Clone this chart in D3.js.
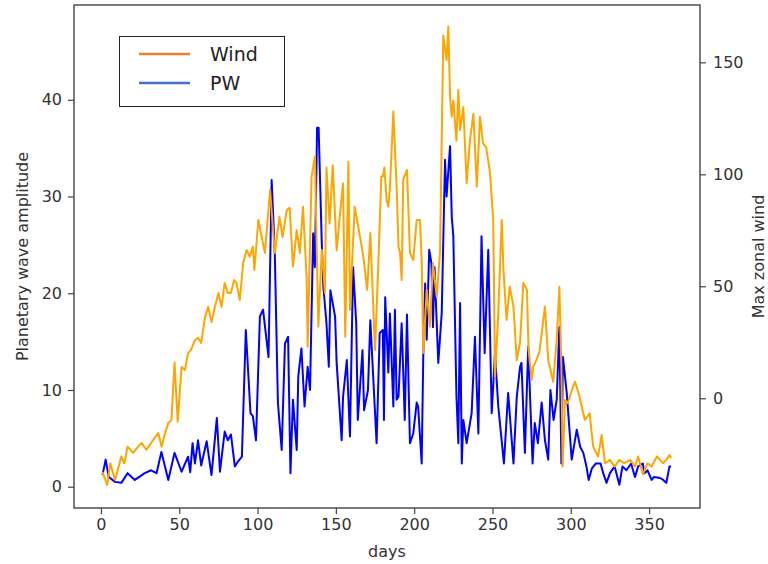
<!DOCTYPE html>
<html>
<head>
<meta charset="utf-8">
<script src="https://cdn.jsdelivr.net/npm/d3@7"></script>
<style>
  body { margin: 0; background: #fff; }
  svg { font-family: "DejaVu Sans", sans-serif; }
</style>
</head>
<body>
<div id="chart"></div>
<script>
const pwDays = [1, 3, 5, 9, 13, 17, 21.6, 28, 32, 35.5, 38.6, 43, 47, 51.5, 55.6, 57, 58.5, 60, 62, 64,
  67.5, 70.6, 74, 76, 79, 81, 83, 85.5, 87.5, 90, 92.5, 95.5, 97, 99, 101.5, 103.5, 107, 109, 111, 113,
  115.4, 117.5, 119.5, 121, 122.6, 125, 126, 128, 130, 132, 133.5, 135.5, 136.6, 138, 139, 141, 142, 144, 145.5, 146.5,
  149.5, 150.5, 153.7, 154.6, 157, 159, 161, 163, 164, 167, 168, 170.5, 172, 176, 178, 180, 180.7, 181.5, 183.5, 184.5,
  186.7, 187.7, 188.8, 190, 192, 194, 195.4, 197.3, 199.4, 201.6, 202.5, 204.8, 205.8, 207, 208, 209.6, 211, 212, 213, 215.4,
  217.6, 219.7, 220.7, 222.9, 224, 225, 227, 228.2, 229.3, 230.4, 231.4, 233.5, 236.7, 238.8, 241, 243, 245, 247.3, 249.5, 251.6,
  253.7, 257.3, 260, 263.4, 265.5, 267.6, 268.5, 270.7, 272.8, 275.6, 277, 279, 281.4, 283.5, 285.6, 287, 289, 291, 292.7, 294,
  295, 297.4, 300.6, 303.8, 306, 308, 310, 311.4, 313.5, 316, 319, 320.7, 322.8, 325, 328, 331, 333, 335.5, 338.5, 341,
  343, 346, 347, 349, 351.6, 353, 357, 359, 361, 363, 364];
const pwValues = [1.2, 2.8, 1.0, 0.5, 0.4, 1.4, 0.7, 1.4, 1.7, 1.4, 3.6, 0.7, 3.5, 1.55, 3.1, 1.5, 4.5, 2.4, 4.8, 2.2,
  4.7, 1.2, 7.1, 1.55, 5.7, 4.8, 5.4, 2.1, 2.6, 3.1, 16.2, 7.6, 7.3, 4.8, 17.6, 18.3, 13.4, 31.7, 24.2, 8.7,
  3.8, 14.8, 15.5, 1.4, 9, 3.8, 11.4, 14.3, 8.3, 12.4, 10, 26.2, 22.7, 37.1, 37.1, 25.2, 20.7, 16.9, 12.4, 20.3,
  17.6, 12.8, 4.8, 9.3, 13.1, 5.2, 22.7, 16.9, 6.9, 14.1, 7.9, 10, 17.2, 4.5, 15.9, 16.2, 6.9, 19.6, 11.8, 17.9,
  8.3, 18.3, 9, 9.3, 16.9, 6.9, 17.8, 4.5, 5.5, 8.7, 8.3, 2.4, 13.4, 21, 15.2, 24.5, 23.1, 16.5, 22.7, 12.8,
  18, 33.8, 30, 35.2, 27.9, 25.9, 9.3, 4.5, 19, 2.4, 6.9, 4.5, 7.6, 15.5, 5.5, 25.9, 13.8, 24.5, 7.6, 13.8,
  8.3, 2.4, 9.7, 2.4, 9.3, 12.4, 12.8, 3.5, 14.5, 2.4, 6.6, 4.5, 8.7, 4.8, 2.8, 10, 6.9, 9, 16.5, 2.4,
  13.4, 9.7, 2.8, 5.9, 4.1, 3.5, 2.1, 0.7, 1.9, 2.4, 2.4, 1.4, 0.4, 1.4, 2.1, 0.2, 2.1, 1.7, 2.4, 1.0,
  2.1, 2.4, 1.4, 1.7, 0.7, 1.0, 0.9, 0.7, 0.4, 2.1, 2.1];

// max zonal wind (right axis)
const windDays = [1, 4, 6, 9, 13, 15, 17, 20.6, 23.7, 26, 29, 32, 36.6, 38.7, 41, 43, 45, 47, 49, 51.5,
  53.6, 55.6, 57.5, 60, 62, 64, 66.4, 68.5, 70.6, 72.8, 75, 77, 79, 81, 83, 85, 86.5, 88.7, 90.8, 93,
  95, 97, 98, 100.5, 102.6, 104.7, 108, 111, 114, 116, 118.6, 120.5, 122.6, 125, 127, 129, 131.3, 132, 134.5, 136.6,
  138.8, 141, 143, 144, 146, 148, 150.5, 152.5, 154.6, 156, 158, 159, 162, 164.3, 166.5, 167.5, 170, 172, 175, 177,
  179, 180, 181, 182.4, 183.5, 184.5, 186.7, 188.8, 190, 191, 192, 193, 195.4, 197.3, 199.4, 201.6, 203.7, 204.8, 205.8, 208,
  210, 212, 214.4, 216.5, 218.6, 220.7, 221.8, 222.9, 224, 225, 227, 228.2, 229.3, 231.4, 233.5, 235.6, 237.8, 240, 242, 244,
  246, 247.3, 248.4, 250.5, 251.6, 253.7, 255.9, 257, 259, 261, 263.4, 265.5, 267.6, 269.7, 272, 273, 275, 276, 278, 280,
  281.4, 283.5, 285.6, 288.8, 291, 292.7, 294, 294.8, 296.3, 298, 300, 302.7, 305, 307, 309, 312, 314.3, 317.4, 319.7, 321.8,
  325, 328, 331, 334, 338, 341, 343, 346, 349, 351.6, 355, 357, 359, 361, 363, 364];
const windValues = [-33, -38.7, -29, -36.5, -26, -29, -21.6, -24.4, -21.6, -20, -23, -20, -15.5, -21.6, -15.5, -11, -9.7, 16, -10.5, 14,
  12.6, 20, 21.6, 26, 27, 24.7, 36, 40.8, 34, 40.9, 47, 40.8, 51.5, 47, 47, 52.8, 51.5, 43.9, 60.4, 66.2,
  63.2, 67.7, 57.3, 79.6, 72.1, 64.9, 93, 64.9, 81, 72, 84, 85, 58.8, 75, 64.9, 85.5, 54.3, 23, 99, 108,
  32, 66.2, 47, 103, 78, 104, 66, 81, 96, 27.5, 105.6, 39.4, 85.5, 76.6, 67.7, 63.2, 48.4, 73.8, 21.6, 57.3,
  99, 99, 103, 88.5, 85.5, 94, 128, 94.5, 67.7, 64.9, 52.8, 97.5, 102, 65, 61.7, 79.6, 79.6, 61.7, 20.2, 48.4,
  32, 60.4, 45.3, 65, 162, 151, 166, 134.6, 125.7, 133, 115, 137.6, 119.8, 130, 96, 115, 127, 94.5, 125.7, 113.8,
  112, 106, 100.5, 79.6, 9.6, 38, 79.6, 57.3, 35, 49.8, 40.9, 17, 25, 51.5, 48.4, 22, 8.2, 14, 17, 21,
  29, 40.9, 17, 7.4, 26, 49.8, 14.1, -30.5, -0.8, -2.2, 2.2, 7.4, 2.2, -3.8, -9.7, -6.7, -21.6, -26, -16.4, -29,
  -27.5, -30.5, -27.5, -29, -27.5, -30.5, -26, -34, -29, -30.5, -26, -27.5, -29, -27.5, -25.3, -26.7];

const xTicks = [0, 50, 100, 150, 200, 250, 300, 350];
const pwTicks = [0, 10, 20, 30, 40];
const windTicks = [0, 50, 100, 150];

const width = 768, height = 564;
const frame = { left: 74, right: 700, top: 5, bottom: 508 };

const svg = d3.select('#chart').append('svg')
  .attr('width', width)
  .attr('height', height);

const x = d3.scaleLinear().domain([-17.2, 382.5]).range([frame.left, frame.right]);
const yPW = d3.scaleLinear().domain([-2.2, 49.8]).range([frame.bottom, frame.top]);
const yWind = d3.scaleLinear().domain([-49, 175.6]).range([frame.bottom, frame.top]);

const pwData = pwDays.map((d, i) => [d, pwValues[i]]);
const windData = windDays.map((d, i) => [d, windValues[i]]);

const plot = svg.append('g');

plot.append('path')
  .datum(pwData)
  .attr('fill', 'none')
  .attr('stroke', '#0000ff')
  .attr('stroke-width', 2)
  .attr('stroke-linejoin', 'round')
  .attr('d', d3.line().x(d => x(d[0])).y(d => yPW(d[1])));

plot.append('path')
  .datum(windData)
  .attr('fill', 'none')
  .attr('stroke', '#ffa500')
  .attr('stroke-width', 2)
  .attr('stroke-linejoin', 'round')
  .attr('d', d3.line().x(d => x(d[0])).y(d => yWind(d[1])));

// axes
const styleAxis = g => {
  g.select('.domain').remove();
  g.selectAll('.tick line').attr('stroke', '#444').attr('stroke-width', 1.2);
  g.selectAll('.tick text').attr('fill', '#333').style('font-size', '16px')
    .style('font-family', '"DejaVu Sans", sans-serif');
};

svg.append('g')
  .attr('transform', `translate(0,${frame.bottom})`)
  .call(d3.axisBottom(x).tickValues(xTicks).tickSize(6).tickPadding(5))
  .call(styleAxis);

svg.append('g')
  .attr('transform', `translate(${frame.left},0)`)
  .call(d3.axisLeft(yPW).tickValues(pwTicks).tickSize(6).tickPadding(6))
  .call(styleAxis);

svg.append('g')
  .attr('transform', `translate(${frame.right},0)`)
  .call(d3.axisRight(yWind).tickValues(windTicks).tickSize(6).tickPadding(7))
  .call(styleAxis);

svg.append('rect')
  .attr('x', frame.left).attr('y', frame.top)
  .attr('width', frame.right - frame.left).attr('height', frame.bottom - frame.top)
  .attr('fill', 'none')
  .attr('stroke', '#444')
  .attr('stroke-width', 1.4);

// axis labels
const midY = (frame.top + frame.bottom) / 2;

svg.append('text')
  .attr('x', (frame.left + frame.right) / 2).attr('y', 557)
  .attr('text-anchor', 'middle')
  .attr('fill', '#333')
  .style('font-size', '16px')
  .text('days');

svg.append('text')
  .attr('transform', `translate(28,${midY}) rotate(-90)`)
  .attr('text-anchor', 'middle')
  .attr('fill', '#333')
  .style('font-size', '16px')
  .text('Planetary wave amplitude');

svg.append('text')
  .attr('transform', `translate(764,${midY}) rotate(-90)`)
  .attr('text-anchor', 'middle')
  .attr('fill', '#333')
  .style('font-size', '16px')
  .text('Max zonal wind');

// legend
const legendItems = [
  { label: 'Wind', color: '#ed7d31' },
  { label: 'PW', color: '#4472c4' }
];

const legend = svg.append('g');
legend.append('rect')
  .attr('x', 119.5).attr('y', 36.5)
  .attr('width', 165).attr('height', 70)
  .attr('fill', '#fff')
  .attr('stroke', '#222')
  .attr('stroke-width', 1);

legendItems.forEach((item, i) => {
  const cy = 54 + i * 29;
  legend.append('line')
    .attr('x1', 139).attr('x2', 190)
    .attr('y1', cy).attr('y2', cy)
    .attr('stroke', item.color)
    .attr('stroke-width', 2.5);
  legend.append('text')
    .attr('x', 210).attr('y', cy + 7)
    .attr('fill', '#222')
    .style('font-size', '19px')
    .text(item.label);
});
</script>
</body>
</html>
